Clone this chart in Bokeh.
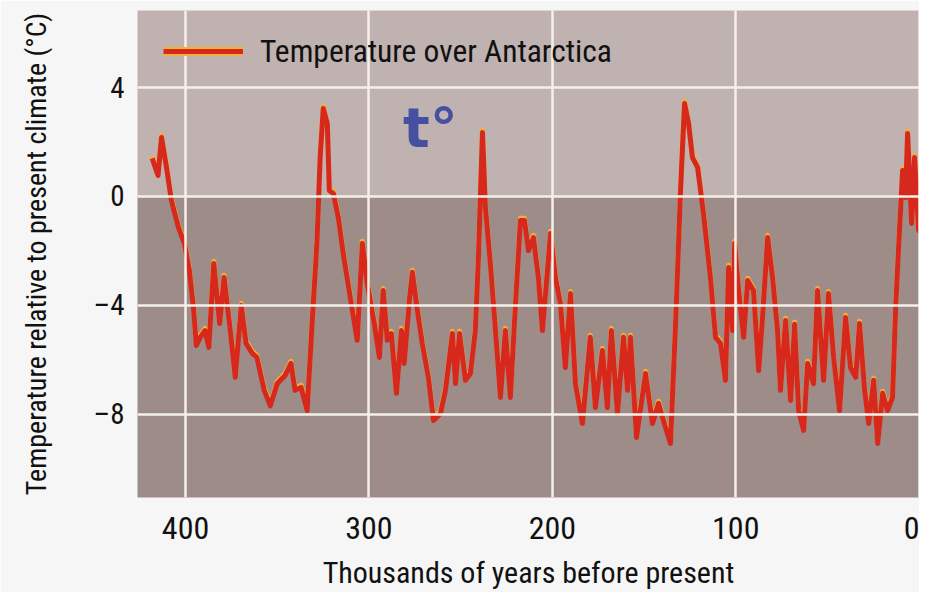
from bokeh.plotting import figure
from bokeh.models import (Range1d, FixedTicker, BoxAnnotation, Legend, LegendItem,
                          Label, ColumnDataSource)
from bokeh.transform import dodge
from bokeh.embed import file_html
from bokeh.resources import INLINE

# ---- data ----
kyr = [418.2, 415.0, 413.1, 410.4, 407.7, 403.9, 400.6, 397.9, 395.7, 394.1,
       392.0, 389.4, 387.3, 384.6, 381.4, 379.0, 375.6, 372.9, 369.6, 367.0,
       363.6, 361.1, 357.1, 353.8, 350.0, 345.7, 342.5, 340.3, 337.0, 333.7,
       331.0, 328.3, 326.6, 324.9, 322.7, 321.6, 319.4, 316.7, 314.0, 310.2,
       306.4, 303.6, 300.9, 297.1, 294.3, 292.2, 290.0, 287.8, 285.0, 282.3,
       280.8, 277.8, 276.3, 273.6, 270.9, 267.6, 264.8, 261.0, 258.3, 254.5,
       252.8, 250.6, 247.4, 244.7, 242.0, 240.3, 238.1, 236.5, 233.8, 231.0,
       228.3, 225.6, 222.9, 220.2, 217.4, 215.2, 213.0, 210.3, 207.6, 205.4,
       201.0, 198.3, 195.6, 192.9, 190.1, 187.4, 183.6, 179.3, 176.5, 172.7,
       170.0, 167.8, 164.5, 161.2, 159.0, 157.4, 154.1, 149.2, 145.4, 142.1,
       138.3, 135.6, 132.8, 130.1, 127.9, 125.7, 123.6, 120.8, 117.6, 113.8,
       111.0, 108.3, 105.6, 103.9, 101.7, 100.6, 98.4, 95.7, 93.5, 90.3,
       87.5, 85.4, 82.6, 79.9, 77.2, 75.6, 72.8, 70.1, 67.9, 65.7,
       63.0, 60.8, 57.6, 55.4, 52.1, 49.4, 46.6, 43.4, 40.1, 37.4,
       34.6, 32.5, 29.7, 27.5, 24.8, 22.6, 19.9, 17.2, 14.5, 12.8,
       11.2, 9.0, 7.4, 6.3, 4.1, 2.5, 0.3, -1.9]
temp = [1.40, 0.77, 2.17, 1.07, -0.15, -1.14, -1.73, -2.72, -4.08, -5.48,
        -5.18, -4.93, -5.55, -2.46, -4.67, -2.98, -4.93, -6.65, -4.01, -5.40,
        -5.77, -5.92, -7.13, -7.70, -6.88, -6.58, -6.14, -7.13, -7.02, -7.87,
        -4.67, -1.62, 1.43, 3.24, 2.68, 0.22, 0.11, -0.77, -2.10, -3.71,
        -5.29, -1.73, -3.20, -4.67, -5.92, -3.46, -5.29, -5.04, -7.24, -4.93,
        -6.14, -3.70, -2.79, -4.19, -5.40, -6.65, -8.24, -7.98, -7.13, -5.04,
        -6.88, -5.04, -6.76, -6.51, -4.93, -2.24, 2.35, -0.40, -2.46, -4.93,
        -7.39, -4.93, -7.39, -4.08, -0.88, -0.88, -1.99, -1.51, -2.98, -4.93,
        -1.36, -2.98, -3.93, -6.29, -3.57, -6.88, -8.35, -5.18, -7.76, -5.66,
        -7.76, -4.93, -7.98, -5.18, -7.13, -5.18, -8.86, -6.51, -8.35, -7.61,
        -8.49, -9.08, -4.67, 0.22, 3.42, 2.68, 1.43, 1.07, -0.62, -2.98,
        -5.18, -5.40, -6.76, -2.61, -4.93, -1.73, -3.46, -5.18, -3.09, -3.46,
        -6.40, -4.45, -1.51, -2.98, -4.93, -7.13, -4.56, -7.50, -4.70, -7.87,
        -8.60, -6.14, -6.88, -3.46, -6.76, -3.57, -5.92, -7.87, -4.45, -6.29,
        -6.65, -4.67, -7.13, -8.35, -6.76, -9.08, -7.24, -7.87, -7.39, -4.08,
        -1.87, 0.96, -0.04, 2.32, -0.99, 1.43, -1.25, 1.58]

x_ticks = [400, 300, 200, 100, 0]
x_tick_labels = ["400", "300", "200", "100", "0"]
y_ticks = [4, 0, -4, -8]
y_tick_labels = ["4", "0", "\u20134", "\u20138"]

series_name = "Temperature over Antarctica"
x_title = "Thousands of years before present"
y_title = "Temperature relative to present climate (\u00b0C)"

FONT = "'Liberation Sans Narrow', 'Arial Narrow', 'Roboto Condensed', 'Liberation Sans', sans-serif"
INK = "#111111"
YELLOW = "#f2b136"
RED = "#d6281c"

src = ColumnDataSource(dict(kyr=kyr, temp=temp))

p = figure(width=919, height=592, output_backend="svg", toolbar_location=None,
           x_range=Range1d(426.2, -0.2), y_range=Range1d(-11.07, 6.84),
           min_border_left=137, min_border_right=0, min_border_top=10,
           min_border_bottom=95)

p.background_fill_color = "#bfb2b0"
p.border_fill_color = "#f6f6f6"
p.outline_line_color = None

# darker band below present climate
p.add_layout(BoxAnnotation(top=0, fill_color="#9e8c88", fill_alpha=1.0,
                           line_color=None, level="underlay"))

p.grid.level = "glyph"
p.grid.grid_line_color = "#f5f1ea"
p.grid.grid_line_width = 2.5
p.xgrid.ticker = FixedTicker(ticks=x_ticks)
p.ygrid.ticker = FixedTicker(ticks=y_ticks)

for ax in (p.xaxis, p.yaxis):
    ax.axis_line_color = None
    ax.major_tick_line_color = None
    ax.minor_tick_line_color = None
    ax.major_label_text_font = FONT
    ax.major_label_text_color = INK
    ax.axis_label_text_font = FONT
    ax.axis_label_text_font_style = "normal"
    ax.axis_label_text_color = INK

p.xaxis.ticker = FixedTicker(ticks=x_ticks)
p.xaxis.major_label_overrides = dict(zip(x_ticks, x_tick_labels))
p.xaxis.major_label_text_font_size = "32px"
p.xaxis.major_label_standoff = 13
p.xaxis.axis_label = x_title
p.xaxis.axis_label_text_font_size = "30px"
p.xaxis.axis_label_standoff = 13

p.yaxis.ticker = FixedTicker(ticks=y_ticks)
p.yaxis.major_label_overrides = dict(zip(y_ticks, y_tick_labels))
p.yaxis.major_label_text_font_size = "29px"
p.yaxis.major_label_standoff = 7
p.yaxis.axis_label = y_title
p.yaxis.axis_label_text_font_size = "28px"
p.yaxis.axis_label_standoff = 38

# curve: thin yellow edge above, red body
yel = p.line(x="kyr", y=dodge("temp", 0.08, range=p.y_range), source=src,
             line_color=YELLOW, line_width=5, line_join="round")
red = p.line(x="kyr", y="temp", source=src, line_color=RED,
             line_width=5, line_join="round")

# legend swatch: hidden, style-only copy of the curve
swatch = p.line(x="kyr", y="temp", source=src, line_color=YELLOW,
                line_width=9, visible=False)
legend = Legend(items=[LegendItem(label=series_name, renderers=[swatch, red])],
                location=(26, 424), margin=0, padding=0, spacing=0,
                glyph_width=80, glyph_height=44, label_height=44,
                label_standoff=17, background_fill_alpha=0,
                border_line_color=None, label_text_font=FONT,
                label_text_font_size="31.5px", label_text_color=INK)
p.add_layout(legend)

p.add_layout(Label(x=266.5, y=2.53, text="t\u00b0", text_font="DejaVu Sans",
                   text_font_style="bold", text_font_size="56px",
                   text_color="#4650a0", text_align="center",
                   text_baseline="alphabetic"))

open("out.html", "w").write(file_html(p, INLINE))
